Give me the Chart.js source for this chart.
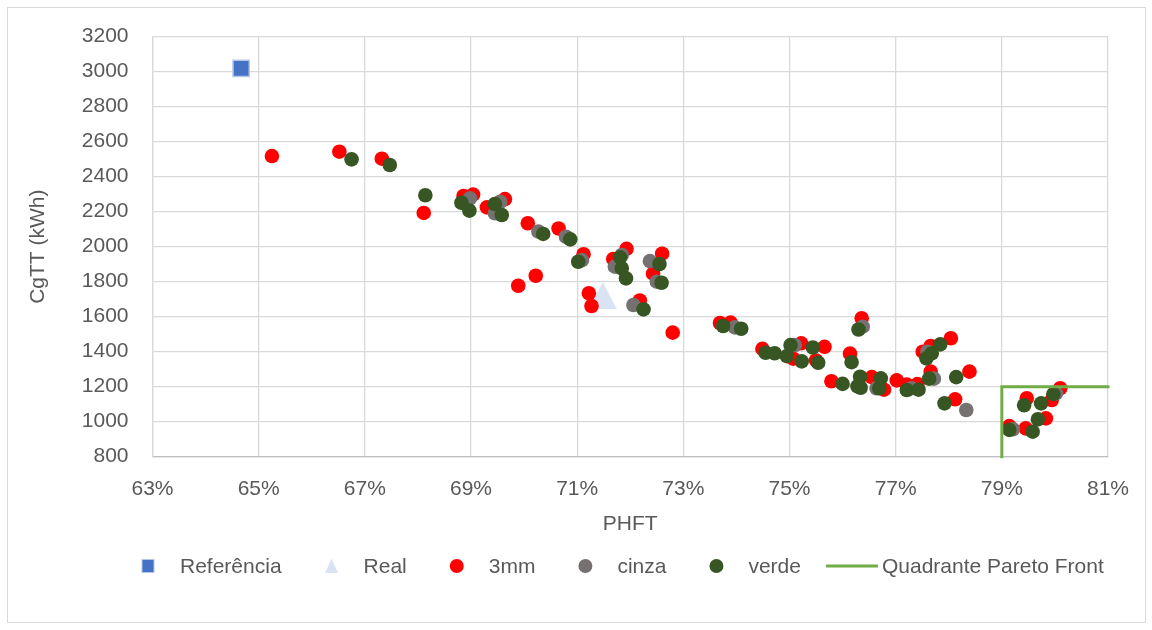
<!DOCTYPE html>
<html><head><meta charset="utf-8">
<script src="https://cdn.jsdelivr.net/npm/chart.js@4.4.1/dist/chart.umd.min.js"></script>
<style>html,body{margin:0;padding:0;background:#fff;}#wrap{position:relative;width:1152px;height:630px;}</style>
</head><body><div id="wrap"><canvas id="c" width="1152" height="630"></canvas></div>
<script>
// ---- data (PHFT in %, CgTT in kWh) ----
const xTickValues = [63, 65, 67, 69, 71, 73, 75, 77, 79, 81];
const yTickValues = [800, 1000, 1200, 1400, 1600, 1800, 2000, 2200, 2400, 2600, 2800, 3000, 3200];
const seriesNames = ['Referência', 'Real', '3mm', 'cinza', 'verde', 'Quadrante Pareto Front'];

const refX = [64.67];
const refY = [3019];
const realX = [71.48];
const realY = [1722];

const mm3X = [65.25, 66.52, 67.32, 68.11, 68.86, 69.04, 69.30, 69.64, 70.07, 70.65, 71.12, 69.89, 70.22, 71.22, 71.27, 71.93, 71.68, 72.60, 72.43, 72.18, 72.80, 73.69, 73.89, 74.49, 75.22, 75.07, 75.66, 75.50, 76.36, 76.14, 75.79, 76.55, 76.78, 77.02, 77.21, 77.41, 77.51, 77.66, 78.04, 77.66, 78.39, 78.12, 79.47, 79.94, 80.10, 79.83, 79.14, 79.45];
const mm3Y = [2518, 2543, 2503, 2193, 2290, 2298, 2225, 2272, 2134, 2104, 1957, 1777, 1834, 1734, 1661, 1988, 1930, 1960, 1846, 1693, 1509, 1564, 1566, 1416, 1448, 1360, 1428, 1350, 1591, 1389, 1231, 1255, 1183, 1236, 1212, 1215, 1400, 1433, 1477, 1286, 1286, 1128, 1134, 1124, 1191, 1019, 975, 962];

const cinzaX = [68.98, 69.55, 69.45, 70.27, 70.79, 71.09, 71.84, 71.71, 72.37, 72.50, 72.06, 73.97, 75.10, 76.38, 76.64, 77.30, 77.72, 77.60, 78.33, 80.02, 79.21];
const cinzaY = [2276, 2257, 2191, 2086, 2057, 1923, 1953, 1886, 1918, 1800, 1667, 1539, 1438, 1543, 1191, 1191, 1246, 1400, 1067, 1162, 957];

const verdeX = [66.75, 67.47, 68.14, 68.82, 68.97, 69.45, 69.58, 70.36, 70.87, 71.02, 71.81, 71.84, 71.92, 72.55, 72.59, 72.25, 73.75, 74.09, 74.55, 74.72, 75.02, 74.95, 75.23, 75.44, 75.54, 76.30, 76.17, 76.00, 76.33, 76.28, 76.34, 76.72, 76.69, 77.21, 77.43, 77.58, 77.68, 77.84, 77.63, 78.14, 77.92, 79.42, 79.74, 79.97, 79.68, 79.14, 79.58];
const verdeY = [2499, 2467, 2294, 2251, 2206, 2244, 2181, 2073, 2042, 1914, 1939, 1877, 1819, 1901, 1794, 1642, 1547, 1531, 1394, 1391, 1438, 1375, 1345, 1424, 1337, 1527, 1340, 1216, 1257, 1202, 1194, 1248, 1191, 1181, 1183, 1362, 1391, 1442, 1246, 1255, 1105, 1094, 1105, 1158, 1014, 953, 943];

const quadX = [79, 79, 81];
const quadY = [800, 1200, 1200];

// ---- styling ----
const FONT = 'Liberation Sans';
const TXT = '#595959';
const COLORS = {ref: '#4472C4', refBorder: '#B4C7E7', real: '#DAE3F3', mm3: '#FF0000', cinza: '#767171', verde: '#375623', quad: '#70AD47'};

const pts = (xs, ys) => xs.map((x, i) => ({x: x, y: ys[i]}));

function triangleImage(w, h, color) {
  const cv = document.createElement('canvas');
  cv.width = w; cv.height = h;
  const g = cv.getContext('2d');
  g.fillStyle = color;
  g.beginPath(); g.moveTo(w / 2, 0); g.lineTo(w, h); g.lineTo(0, h); g.closePath(); g.fill();
  return cv;
}
const triImg = triangleImage(28, 27, COLORS.real);

const frame = {
  id: 'frame',
  beforeDraw(chart) {
    const c = chart.ctx;
    c.save();
    c.fillStyle = '#fff'; c.fillRect(0, 0, chart.width, chart.height);
    c.strokeStyle = '#D9D9D9'; c.lineWidth = 1;
    c.strokeRect(7.5, 7.5, 1138, 615);
    c.restore();
  }
};

const legendPlugin = {
  id: 'customLegend',
  afterDraw(chart) {
    const c = chart.ctx;
    const y = 566;
    c.save();
    c.font = '21px "' + FONT + '"';
    c.textBaseline = 'middle';
    c.fillStyle = TXT;
    let x = 148;
    const items = [
      {kind: 'rect'}, {kind: 'tri'}, {kind: 'dot', color: COLORS.mm3},
      {kind: 'dot', color: COLORS.cinza}, {kind: 'dot', color: COLORS.verde}, {kind: 'line'}
    ];
    items.forEach((it, i) => {
      const label = seriesNames[i];
      let textX;
      if (it.kind === 'line') {
        const x0 = x - 25;
        c.strokeStyle = COLORS.quad; c.lineWidth = 3;
        c.beginPath(); c.moveTo(x0, y); c.lineTo(x0 + 52, y); c.stroke();
        textX = x0 + 56;
      } else {
        if (it.kind === 'rect') {
          c.fillStyle = COLORS.ref; c.fillRect(x - 6, y - 6.5, 12, 13);
          c.strokeStyle = COLORS.refBorder; c.lineWidth = 1; c.strokeRect(x - 6, y - 6.5, 12, 13);
        } else if (it.kind === 'tri') {
          c.fillStyle = COLORS.real;
          c.beginPath(); c.moveTo(x, y - 7.5); c.lineTo(x + 6.5, y + 7); c.lineTo(x - 6.5, y + 7); c.closePath(); c.fill();
        } else {
          c.fillStyle = it.color;
          c.beginPath(); c.arc(x, y, 7, 0, Math.PI * 2); c.fill();
        }
        textX = x + 32;
      }
      c.fillStyle = TXT;
      c.fillText(label, textX, y + 1);
      const w = c.measureText(label).width;
      x = textX + w + 50;
    });
    c.restore();
  }
};

new Chart(document.getElementById('c'), {
  type: 'scatter',
  data: {
    datasets: [
      {label: seriesNames[0], data: pts(refX, refY), order: 6, pointStyle: 'rect', pointRadius: 11.5, pointHoverRadius: 11.5,
       backgroundColor: COLORS.ref, borderColor: COLORS.refBorder, borderWidth: 1.5},
      {label: seriesNames[1], data: pts(realX, realY), order: 5, pointStyle: triImg, pointRadius: 14},
      {label: seriesNames[2], data: pts(mm3X, mm3Y), order: 4, pointRadius: 7.3, pointHoverRadius: 7.3,
       backgroundColor: COLORS.mm3, borderWidth: 0},
      {label: seriesNames[3], data: pts(cinzaX, cinzaY), order: 3, pointRadius: 7.3, pointHoverRadius: 7.3,
       backgroundColor: COLORS.cinza, borderWidth: 0},
      {label: seriesNames[4], data: pts(verdeX, verdeY), order: 2, pointRadius: 7.3, pointHoverRadius: 7.3,
       backgroundColor: COLORS.verde, borderWidth: 0},
      {label: seriesNames[5], data: pts(quadX, quadY), order: 1, showLine: true, pointRadius: 0, pointHoverRadius: 0,
       borderColor: COLORS.quad, borderWidth: 3, borderCapStyle: 'square', clip: false, fill: false}
    ]
  },
  options: {
    responsive: false,
    animation: false,
    events: [],
    layout: {padding: {left: 10, right: 44, top: 36.7, bottom: 93.3}},
    plugins: {legend: {display: false}, tooltip: {enabled: false}},
    scales: {
      x: {
        type: 'linear', min: 63, max: 81,
        afterBuildTicks: s => { s.ticks = xTickValues.map(v => ({value: v})); },
        afterFit: s => { s.height = 80; },
        ticks: {callback: v => v + '%', color: TXT, font: {family: FONT, size: 21}, padding: 20, maxRotation: 0, autoSkip: false},
        grid: {color: '#D9D9D9', lineWidth: 1.3, drawTicks: false},
        border: {color: '#BFBFBF', width: 1.3},
        title: {display: true, text: 'PHFT', color: TXT, font: {family: FONT, size: 21}, padding: {top: 0, bottom: 0}}
      },
      y: {
        type: 'linear', min: 800, max: 3200,
        afterBuildTicks: s => { s.ticks = yTickValues.map(v => ({value: v})); },
        afterFit: s => { s.width = 142.5; },
        ticks: {callback: v => String(v), color: TXT, font: {family: FONT, size: 21}, padding: 24, autoSkip: false},
        grid: {color: '#D9D9D9', lineWidth: 1.3, drawTicks: false},
        border: {color: '#D9D9D9', width: 1.3},
        title: {display: true, text: 'CgTT (kWh)', color: TXT, font: {family: FONT, size: 21}, padding: {top: 15.4, bottom: 0}}
      }
    }
  },
  plugins: [frame, legendPlugin]
});
</script>
</body></html>
